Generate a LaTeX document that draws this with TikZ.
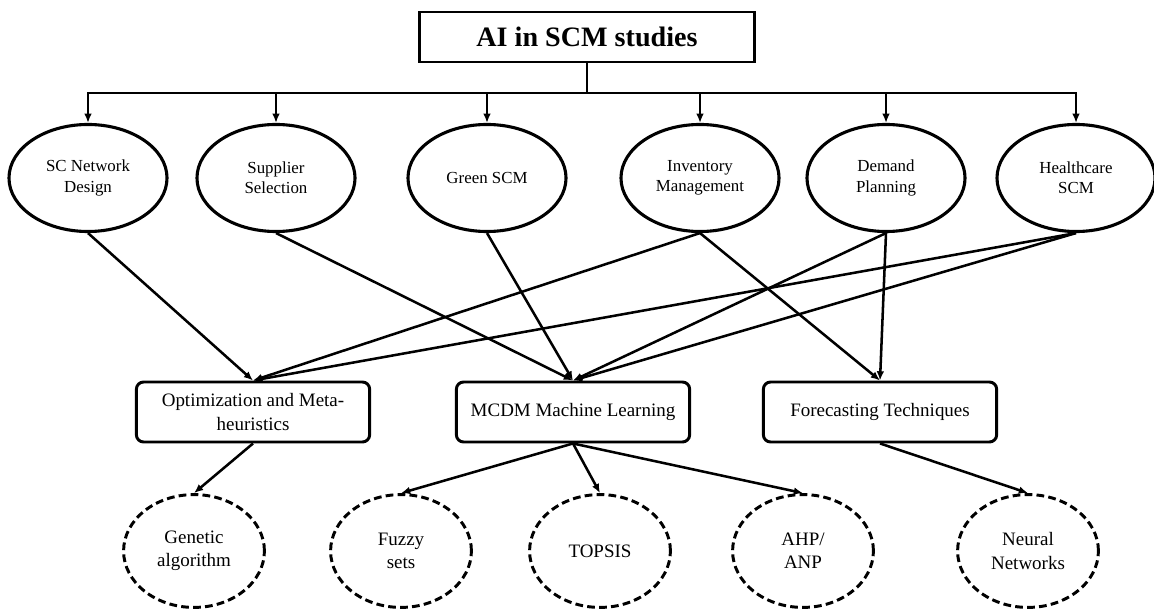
\documentclass[tikz,border=0pt]{standalone}
\usepackage{fontspec}
\setmainfont{Liberation Serif}
\usetikzlibrary{arrows.meta,shapes.geometric}

\begin{document}
\begin{tikzpicture}[x=0.025cm,y=-0.025cm,>={Latex[length=2.3mm,width=1.9mm]},line width=1.8pt,
  root/.style={draw,line width=2.1pt,minimum width=8.35cm,minimum height=1.25cm,font=\fontsize{20}{24}\selectfont\bfseries},
  area/.style={draw,ellipse,line width=2.2pt,inner sep=0pt,minimum width=3.95cm,minimum height=2.675cm,align=center,font=\fontsize{12}{14.5}\selectfont},
  method/.style={draw,rounded corners=1.8mm,line width=2.1pt,minimum width=5.83cm,minimum height=1.5cm,align=center,font=\fontsize{13.5}{16.5}\selectfont},
  tool/.style={draw,ellipse,dash pattern=on 5.5pt off 3pt,line width=2.1pt,inner sep=0pt,minimum width=3.52cm,minimum height=2.82cm,align=center,font=\fontsize{13.5}{16.5}\selectfont}]
\useasboundingbox (0,0) rectangle (1154,609);
\node[root] (ai) at (587,37) {AI in SCM studies};
\coordinate (bus) at (587,93);
% research areas
\node[area] (scnd) at (88,178) {SC Network\\Design};
\node[area] (supp) at (276,178) {Supplier\\Selection};
\node[area] (green) at (487,178) {Green SCM};
\node[area] (inv) at (700,178) {Inventory\\Management};
\node[area] (dem) at (886,178) {Demand\\Planning};
\node[area] (hc) at (1076,178) {Healthcare\\SCM};
% methods
\node[method] (opt) at (253,412) {Optimization and Meta-\\heuristics};
\node[method] (mcdm) at (573,412) {MCDM Machine Learning};
\node[method] (fc) at (880,412) {Forecasting Techniques};
% techniques
\node[tool] (ga) at (194,551) {Genetic\\algorithm};
\node[tool] (fuzzy) at (401,551) {Fuzzy\\sets};
\node[tool] (topsis) at (600,551) {TOPSIS};
\node[tool] (ahp) at (803,551) {AHP/\\ANP};
\node[tool] (nn) at (1028,551) {Neural\\Networks};
\draw (ai.south) -- (bus);
\foreach \n in {scnd,supp,green,inv,dem,hc}
  \draw[->] (bus) -| (\n.north);
\draw[->] (scnd.south) -- (opt.north);
\draw[->] (supp.south) -- (mcdm.north);
\draw[->] (green.south) -- (mcdm.north);
\draw[->] (inv.south) -- (opt.north);
\draw[->] (inv.south) -- (fc.north);
\draw[->] (dem.south) -- (mcdm.north);
\draw[->] (dem.south) -- (fc.north);
\draw[->] (hc.south) -- (opt.north);
\draw[->] (hc.south) -- (mcdm.north);
\draw[->] (opt.south) -- (ga.north);
\draw[->] (mcdm.south) -- (fuzzy.north);
\draw[->] (mcdm.south) -- (topsis.north);
\draw[->] (mcdm.south) -- (ahp.north);
\draw[->] (fc.south) -- (nn.north);
\end{tikzpicture}
\end{document}
